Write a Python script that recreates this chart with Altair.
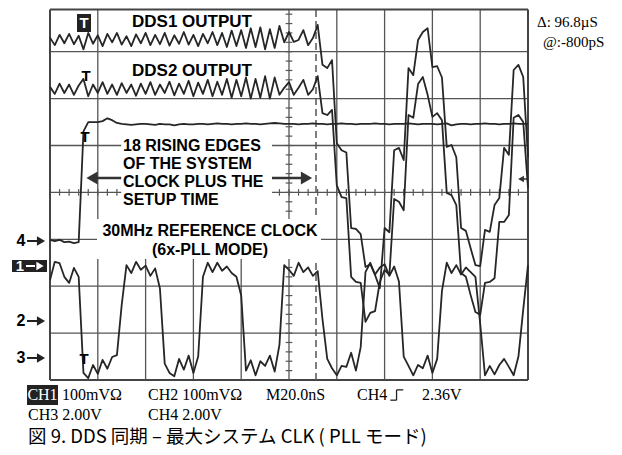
import altair as alt
import pandas as pd

# ---- oscilloscope record: samples every 0.1 division (2 ns), 10 divisions ----
T = [round(i * 0.1, 1) for i in range(101)]

DDS1 = [7.30, 7.14, 7.36, 7.18, 7.38, 7.16, 7.34, 7.05, 7.40, 7.17,
        7.35, 7.12, 7.38, 7.20, 7.40, 7.15, 7.33, 7.12, 7.37, 7.18,
        7.40, 7.14, 7.36, 7.16, 7.40, 7.13, 7.35, 7.17, 7.42, 7.15,
        7.36, 7.12, 7.38, 7.18, 7.42, 7.14, 7.40, 7.10, 7.45, 7.12,
        7.46, 7.08, 7.50, 7.10, 7.52, 7.05, 7.48, 7.08, 7.55, 7.20,
        7.42, 7.21, 7.25, 7.46, 7.14, 7.29, 7.57, 6.72, 6.65, 6.82,
        5.05, 4.90, 4.85, 3.24, 3.22, 3.11, 2.41, 2.47, 2.24, 1.96,
        3.24, 3.15, 4.90, 4.95, 4.69, 6.65, 6.50, 7.25, 7.42, 7.50,
        6.67, 6.69, 6.45, 4.97, 5.01, 4.75, 3.24, 3.18, 2.81, 2.45,
        2.43, 3.20, 3.16, 3.73, 3.88, 4.95, 4.80, 6.61, 6.72, 6.46,
        4.75]

DDS2 = [6.25, 6.10, 6.32, 6.12, 6.30, 6.08, 6.28, 6.42, 6.05, 6.30,
        6.12, 6.35, 6.10, 6.30, 6.08, 6.33, 6.12, 6.30, 6.06, 6.32,
        6.10, 6.35, 6.08, 6.30, 6.12, 6.36, 6.07, 6.32, 6.10, 6.38,
        6.05, 6.34, 6.10, 6.40, 6.05, 6.36, 6.08, 6.42, 6.02, 6.40,
        6.05, 6.45, 6.00, 6.42, 6.02, 6.48, 6.00, 6.45, 6.08, 6.23,
        6.35, 6.08, 6.23, 6.40, 6.08, 6.20, 6.48, 5.69, 5.65, 5.76,
        4.15, 3.90, 3.88, 2.20, 2.09, 2.07, 1.24, 1.43, 1.47, 2.09,
        2.35, 2.24, 3.86, 3.80, 3.62, 5.65, 5.59, 6.31, 6.46, 6.08,
        5.61, 5.69, 5.54, 3.99, 3.94, 3.73, 2.28, 2.20, 1.81, 1.45,
        1.39, 2.07, 2.09, 2.17, 3.37, 3.37, 3.52, 5.59, 5.65, 5.50,
        4.10]

CH4 = [2.99, 2.96, 2.99, 2.94, 2.95, 2.92, 2.94, 5.30, 5.50, 5.50,
       5.50, 5.52, 5.58, 5.54, 5.48, 5.46, 5.45, 5.44, 5.45, 5.46,
       5.46, 5.45, 5.44, 5.46, 5.45, 5.45, 5.43, 5.45, 5.46, 5.45,
       5.45, 5.46, 5.46, 5.45, 5.46, 5.47, 5.46, 5.46, 5.45, 5.46,
       5.46, 5.47, 5.46, 5.46, 5.45, 5.46, 5.47, 5.48, 5.47, 5.46,
       5.46, 5.46, 5.45, 5.46, 5.46, 5.47, 5.46, 5.46, 5.45, 5.46,
       5.46, 5.47, 5.46, 5.46, 5.45, 5.46, 5.46, 5.46, 5.47, 5.46,
       5.46, 5.45, 5.46, 5.46, 5.46, 5.47, 5.46, 5.45, 5.46, 5.46,
       5.46, 5.45, 5.46, 5.47, 5.43, 5.45, 5.46, 5.46, 5.45, 5.46,
       5.46, 5.47, 5.46, 5.46, 5.45, 5.46, 5.46, 5.47, 5.46, 5.46,
       5.46]

CH3 = [2.13, 2.52, 2.49, 2.20, 2.07, 2.39, 2.20, 0.15, 0.04, 0.32,
       0.13, 0.43, 0.24, 0.49, 0.53, 1.60, 2.45, 2.28, 2.52, 2.35,
       2.44, 2.22, 2.38, 1.95, 0.35, 0.15, 0.08, 0.45, 0.22, 0.52,
       0.15, 0.50, 2.20, 2.50, 2.30, 2.50, 2.33, 2.42, 2.28, 2.20,
       1.80, 0.20, 0.42, 0.10, 0.40, 0.30, 0.52, 0.18, 0.75, 2.45,
       2.35, 2.22, 2.50, 2.30, 2.40, 2.22, 2.32, 1.30, 0.45, 0.25,
       0.10, 0.30, 0.28, 0.58, 0.20, 0.70, 2.30, 2.50, 2.25, 2.40,
       2.47, 2.22, 2.42, 2.10, 0.50, 0.30, 0.10, 0.32, 0.25, 0.52,
       0.15, 0.45, 1.90, 2.50, 2.28, 2.45, 2.25, 2.40, 2.30, 2.20,
       1.20, 0.10, 0.30, 0.12, 0.32, 0.45, 0.28, 0.10, 0.50, 1.50,
       2.45]

CHANNELS = ["DDS1", "DDS2", "CH4", "CH3"]
SERIES = [DDS1, DDS2, CH4, CH3]

# ---- scales (graticule divisions) ----
xs = alt.Scale(domain=[-0.8787, 11.7992], nice=False, zero=False)
ys = alt.Scale(domain=[-1.4286, 7.9318], nice=False, zero=False)
TOP = 7.9


def X(f="x"):
    return alt.X(f + ":Q", scale=xs, axis=None)


def Y(f="y"):
    return alt.Y(f + ":Q", scale=ys, axis=None)


def rules(rows, **kw):
    df = pd.DataFrame(rows, columns=["x", "y", "x2", "y2"])
    return alt.Chart(df).mark_rule(**kw).encode(
        x=X(), y=Y(), x2=alt.X2("x2:Q"), y2=alt.Y2("y2:Q"))


def rects(rows, color):
    df = pd.DataFrame(rows, columns=["x", "y", "x2", "y2"])
    return alt.Chart(df).mark_rect(color=color).encode(
        x=X(), y=Y(), x2=alt.X2("x2:Q"), y2=alt.Y2("y2:Q"))


def texts(rows, size, font="Liberation Sans", weight="normal", color="black", align="left"):
    df = pd.DataFrame(rows, columns=["x", "y", "t"])
    return alt.Chart(df).mark_text(fontSize=size, font=font, fontWeight=weight, color=color,
                                   align=align, baseline="middle").encode(
        x=X(), y=Y(), text="t:N")


def tris(rows, shape, size, color="#222222"):
    df = pd.DataFrame(rows, columns=["x", "y"])
    return alt.Chart(df).mark_point(shape=shape, filled=True, size=size, color=color,
                                    opacity=1, strokeWidth=0).encode(x=X(), y=Y())


# ---- graticule ----
grid_rows = []
for v in [1, 5, 6, 7, 8, 9]:
    grid_rows.append((v, 0, v, TOP))
for v in [2, 3, 4]:
    grid_rows.append((v, 0, v, 2.58))
for h in range(1, 8):
    grid_rows.append((0, h, 10, h))
grid = rules(grid_rows, color="#555555", strokeWidth=1.3)

tick_rows = [(k * 0.2, 3.93, k * 0.2, 4.07) for k in range(51)]
tick_rows += [(4.93, k * 0.2, 5.07, k * 0.2) for k in range(40)]
ticks = rules(tick_rows, color="#555555", strokeWidth=1.2)

border = rules([(0, 0, 0, TOP), (10, 0, 10, TOP), (0, 0, 10, 0), (0, TOP, 10, TOP)],
               color="#444444", strokeWidth=2)

dashed = rules([(5.565, 0, 5.565, TOP)], color="#555555", strokeWidth=1.5, strokeDash=[7, 4])

# annotation arrow "18 rising edges"
arrow_line = rules([(0.85, 4.307, 5.40, 4.307)], color="#333333", strokeWidth=2.5)
arrow_l = tris([(0.879, 4.307)], "triangle-left", 170, "#333333")
arrow_r = tris([(5.366, 4.307)], "triangle-right", 170, "#333333")

# trigger level arrow at right
trig_line = rules([(9.88, 4.286, 10.0, 4.286)], color="#333333", strokeWidth=1.5)
trig_tri = tris([(9.854, 4.286)], "triangle-left", 45, "#333333")

boxes = rects([(1.49, 3.582, 4.644, 5.245), (0.983, 2.58, 5.669, 3.433)], "white")

# ---- traces ----
rows = []
for ch, vals in zip(CHANNELS, SERIES):
    for t, v in zip(T, vals):
        rows.append({"x": t, "y": v, "ch": ch})
tr = pd.DataFrame(rows)
traces = alt.Chart(tr).mark_line(color="#262626", strokeWidth=1.8, strokeJoin="round").encode(
    x=X(), y=Y(), detail="ch:N", order="x:Q")

# ---- labels inside graticule ----
dds_labels = texts([(2.971, 7.633, "DDS1 OUTPUT"), (2.971, 6.59, "DDS2 OUTPUT")],
                   17, weight="bold", align="center")
rise_labels = texts([(1.527, 4.989, "18 RISING EDGES"), (1.527, 4.606, "OF THE SYSTEM"),
                     (1.527, 4.222, "CLOCK PLUS THE"), (1.527, 3.838, "SETUP TIME")],
                    16, weight="bold")
ref_labels = texts([(3.347, 3.177, "30MHz REFERENCE CLOCK"), (3.347, 2.772, "(6x-PLL MODE)")],
                   16, weight="bold", align="center")

t_box = rects([(0.565, 7.42, 0.858, 7.804)], "#222222")
t_white = texts([(0.711, 7.612, "T")], 15, weight="bold", color="white", align="center")
t_black = texts([(0.753, 6.482, "T"), (0.732, 5.181, "T"), (0.711, 0.448, "T")],
                15, weight="bold", align="center")

# ---- channel markers ----
mk_nums = texts([(-0.607, 2.964, "4"), (-0.607, 1.258, "2"), (-0.607, 0.469, "3")],
                16, weight="bold", align="center")
mk_lines = rules([(-0.481, 2.964, -0.272, 2.964), (-0.481, 1.258, -0.272, 1.258),
                  (-0.481, 0.469, -0.272, 0.469)], color="#222222", strokeWidth=2)
mk_tris = tris([(-0.188, 2.964), (-0.188, 1.258), (-0.188, 0.469)], "triangle-right", 90)
m1_box = rects([(-0.795, 2.303, -0.063, 2.559)], "#222222")
m1_num = texts([(-0.628, 2.431, "1")], 15, weight="bold", color="white", align="center")
m1_line = rules([(-0.502, 2.431, -0.314, 2.431)], color="white", strokeWidth=2)
m1_tri = tris([(-0.209, 2.431)], "triangle-right", 70, "white")

# ---- readouts ----
R1, R2, R3 = -0.320, -0.746, -1.215
cursor_txt = texts([(10.188, 7.633, "\u0394: 96.8\u00b5S"), (10.314, 7.207, "@:-800pS")],
                   15, font="Liberation Serif")
ch1_box = rects([(-0.481, R1 - 0.213, 0.167, R1 + 0.213)], "#222222")
ch1_txt = texts([(-0.157, R1, "CH1")], 16, font="Liberation Serif", color="white", align="center")
row1 = texts([(0.251, R1, "100mV\u03a9"), (2.050, R1, "CH2 100mV\u03a9"),
              (4.519, R1, "M20.0nS"), (6.423, R1, "CH4"), (7.782, R1, "2.36V")],
             16, font="Liberation Serif")
# rising-edge trigger symbol
trig_sym = rules([(7.12, R1 - 0.11, 7.25, R1 - 0.11), (7.25, R1 - 0.11, 7.25, R1 + 0.11),
                  (7.25, R1 + 0.11, 7.39, R1 + 0.11)], color="#222222", strokeWidth=1.3)
row2 = texts([(-0.460, R2, "CH3  2.00V"), (2.050, R2, "CH4  2.00V")],
             16, font="Liberation Serif")
caption = texts([(-0.460, R3, "\u56f3 9. DDS \u540c\u671f \u2013 \u6700\u5927\u30b7\u30b9\u30c6\u30e0 CLK ( PLL \u30e2\u30fc\u30c9)")],
                18.5, font="Noto Sans CJK JP")

chart = alt.layer(
    grid, ticks, border, dashed, arrow_line, arrow_l, arrow_r, trig_line, trig_tri,
    boxes, traces,
    dds_labels, rise_labels, ref_labels, t_box, t_white, t_black,
    mk_nums, mk_lines, mk_tris, m1_box, m1_num, m1_line, m1_tri,
    cursor_txt, ch1_box, ch1_txt, row1, trig_sym, row2, caption,
).properties(
    width=606, height=439, padding=0, autosize=alt.AutoSizeParams(type="none")
).configure_view(stroke=None)

chart.save("out.html", embed_options={"renderer": "svg", "actions": False})
